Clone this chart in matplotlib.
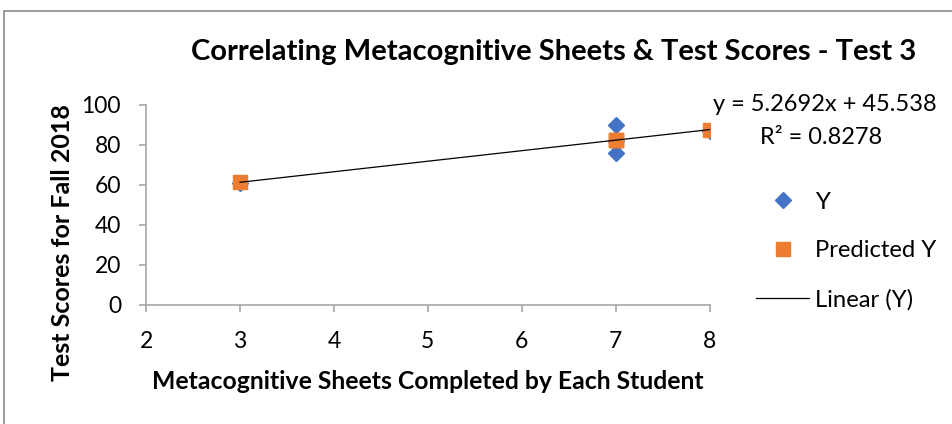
import matplotlib.pyplot as plt
from matplotlib.lines import Line2D
from matplotlib.patches import Rectangle

plt.rcParams['font.family'] = ['Lato', 'DejaVu Sans']

# data
sheets = [3, 7, 7, 7, 8]
scores = [61.2, 90.0, 76.0, 82.0, 87.2]
predicted = [61.35, 82.42, 82.42, 82.42, 87.69]
slope = 5.2692
intercept = 45.538
r2 = 0.8278
trend_x = [3, 8]

blue = '#4472C4'
orange = '#ED7D31'
axis_grey = '#a6a6a6'

fig = plt.figure(figsize=(9.52, 4.24), dpi=100)
ax = fig.add_axes([0.1534, 0.2807, 0.5921, 0.4717])

ax.plot(sheets, scores, linestyle='none', marker='D', ms=8, color=blue, zorder=3)
ax.plot(sheets, predicted, linestyle='none', marker='s', ms=10.5, color=orange, zorder=4)
ax.plot(trend_x, [slope * x + intercept for x in trend_x], color='black', lw=0.9, zorder=5)

ax.set_xlim(2, 8)
ax.set_ylim(0, 100)
ax.set_xticks(range(2, 9))
ax.set_yticks(range(0, 101, 20))
for side in ['top', 'right']:
    ax.spines[side].set_visible(False)
for side in ['left', 'bottom']:
    ax.spines[side].set_color(axis_grey)
    ax.spines[side].set_linewidth(1.2)
ax.tick_params(colors=axis_grey, labelcolor='black', labelsize=16.5, length=5, width=1.2)
ax.tick_params(axis='x', pad=14)
ax.tick_params(axis='y', pad=13)

ax.set_xlabel('Metacognitive Sheets Completed by Each Student', fontsize=17.8,
              fontweight='bold', labelpad=13)
ax.set_ylabel('Test Scores for Fall 2018', fontsize=18, fontweight='bold')
ax.yaxis.set_label_coords(-0.127, 0.31)

fig.text(0.582, 0.877, 'Correlating Metacognitive Sheets & Test Scores - Test 3',
         ha='center', va='center', fontsize=21, fontweight='bold')

fig.text(0.866, 0.753, 'y = 5.2692x + 45.538', ha='center', va='center', fontsize=17)
fig.text(0.862, 0.676, f'R\u00b2 = {r2}', ha='center', va='center', fontsize=17)

handles = [
    Line2D([], [], linestyle='none', marker='D', ms=8, color=blue),
    Line2D([], [], linestyle='none', marker='s', ms=10.5, color=orange),
    Line2D([], [], color='black', lw=0.9),
]
fig.legend(handles, ['Y', 'Predicted Y', 'Linear (Y)'], loc='center left',
           bbox_to_anchor=(0.772, 0.408), frameon=False, fontsize=17.2,
           labelspacing=1.15, handlelength=2.2, handletextpad=0.25)

# outer chart frame
fig.add_artist(Rectangle((4 / 952, -0.1), 1.2, 1 - 11 / 424 + 0.1, transform=fig.transFigure,
                         fill=False, edgecolor='#8c8c8c', lw=1.2))

fig.savefig('out.png', dpi=100)
